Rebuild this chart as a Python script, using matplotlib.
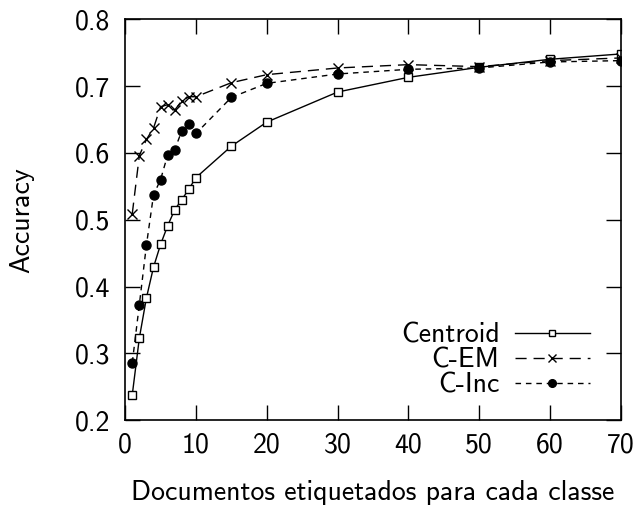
#!/usr/bin/env python3
"""Accuracy vs. number of labelled documents per class (Centroid, C-EM, C-Inc)."""

import matplotlib

matplotlib.use("Agg")
import matplotlib.pyplot as plt

plt.rcParams["font.family"] = ["cmss10", "DejaVu Sans"]
plt.rcParams["axes.formatter.use_mathtext"] = True
plt.rcParams["font.size"] = 20

docs_per_class = [1, 2, 3, 4, 5, 6, 7, 8, 9, 10, 15, 20, 30, 40, 50, 60, 70]

centroid = [0.238, 0.323, 0.383, 0.429, 0.463, 0.491, 0.515, 0.530, 0.546, 0.563,
            0.610, 0.646, 0.691, 0.713, 0.728, 0.740, 0.748]
c_em = [0.509, 0.596, 0.620, 0.637, 0.669, 0.672, 0.664, 0.678, 0.684, 0.684,
        0.705, 0.717, 0.727, 0.732, 0.729, 0.738, 0.742]
c_inc = [0.286, 0.373, 0.462, 0.537, 0.560, 0.597, 0.605, 0.633, 0.643, 0.629,
         0.683, 0.704, 0.718, 0.725, 0.727, 0.736, 0.738]

x_ticks = [0, 10, 20, 30, 40, 50, 60, 70]
y_ticks = [0.2, 0.3, 0.4, 0.5, 0.6, 0.7, 0.8]


def main() -> int:
    fig = plt.figure(figsize=(6.42, 5.05), dpi=100)
    ax = fig.add_axes([0.195, 0.168, 0.772, 0.794])

    ax.plot(docs_per_class, centroid, color="black", lw=1.0, marker="s", ms=5.5,
            mfc="white", mec="black", mew=1.0, label="Centroid")
    ax.plot(docs_per_class, c_em, color="black", lw=1.0, dashes=(8, 5), marker="x",
            ms=6.5, mew=1.0, label="C-EM")
    ax.plot(docs_per_class, c_inc, color="black", lw=1.0, dashes=(4, 3.5), marker="o",
            ms=6.5, label="C-Inc")

    ax.set_xlim(0, 70)
    ax.set_ylim(0.2, 0.8)
    ax.set_xticks(x_ticks)
    ax.set_yticks(y_ticks)
    ax.set_xticklabels([str(t) for t in x_ticks])
    ax.set_yticklabels([f"{t:.1f}" for t in y_ticks])
    ax.tick_params(direction="in", length=11, width=1.0, top=True, right=True)
    ax.tick_params(axis="x", pad=9)
    ax.tick_params(axis="y", pad=11)
    for spine in ax.spines.values():
        spine.set_linewidth(1.2)

    ax.set_xlabel("Documentos etiquetados para cada classe", labelpad=16)
    ax.set_ylabel("Accuracy", labelpad=29)

    ax.legend(loc="lower right", frameon=False, markerfirst=False, handlelength=2.7,
              handletextpad=0.55, labelspacing=0.0, markerscale=0.85,
              borderaxespad=0.0, bbox_to_anchor=(0.96, 0.028))

    fig.savefig("out.png", dpi=100)
    plt.close(fig)
    return 0


if __name__ == "__main__":
    raise SystemExit(main())
